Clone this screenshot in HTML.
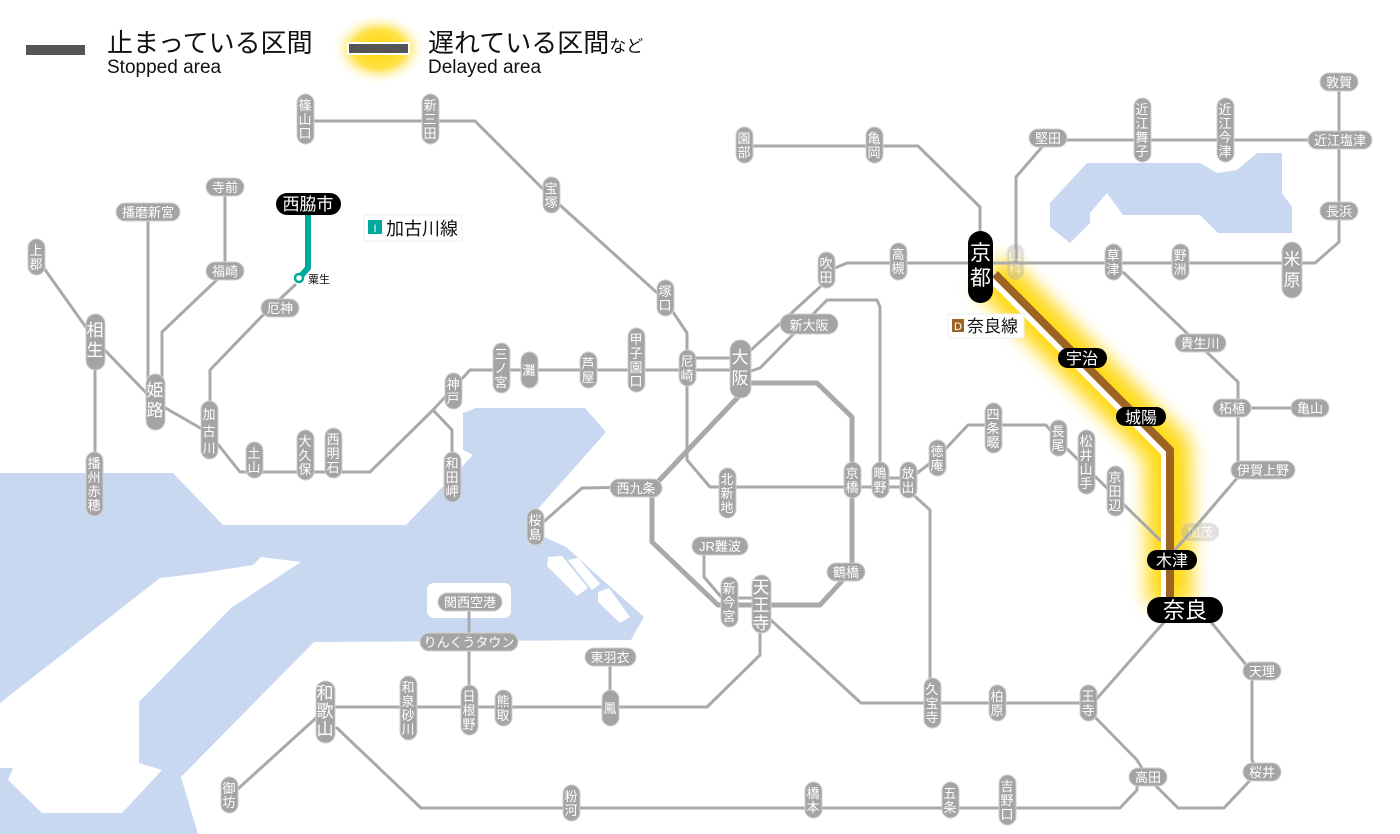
<!DOCTYPE html>
<html><head><meta charset="utf-8">
<style>
html,body{margin:0;padding:0;background:#fff;}
svg{display:block;font-family:"Liberation Sans","Noto Sans CJK JP",sans-serif;}
.ln{fill:none;stroke:#a9a9a9;stroke-width:3;stroke-linejoin:round;stroke-linecap:round;}
.ring{fill:none;stroke:#a9a9a9;stroke-width:5;stroke-linejoin:round;}
.p{fill:#a4a4a4;stroke:#d0d0d0;stroke-width:1;}
.t{fill:#fff;font-size:13px;text-anchor:middle;}
.tb{fill:#fff;font-size:17px;text-anchor:middle;}
.b{fill:#000;}
.tw{fill:#fff;text-anchor:middle;}
</style></head><body>
<svg width="1400" height="834" viewBox="0 0 1400 834" xmlns="http://www.w3.org/2000/svg">
<defs>
<filter id="blur" x="-50%" y="-50%" width="200%" height="200%"><feGaussianBlur stdDeviation="9"/></filter>
<radialGradient id="lg" cx="50%" cy="50%" r="50%"><stop offset="0" stop-color="#ffd400"/><stop offset="0.55" stop-color="#ffe24a"/><stop offset="1" stop-color="#fff" stop-opacity="0"/></radialGradient>
</defs>

<!-- water -->
<polygon fill="#c9d8f1" points="0,473 173,473 223,525 406,525 473,455 463,450 463,413 476,408 585,408 606,432 537,510 540,535 566,547 644,617 631,640 314,642 181,777 198,834 0,834"/>
<polygon fill="#fff" points="261,557 301,562 231,608 139,702 139,763 162,770 122,813 42,813 8,780 13,768 0,768 0,703 160,578 202,573 253,565"/>
<rect x="427" y="583" width="84" height="35" rx="7" fill="#fff"/>
<polygon fill="#fff" points="548,557 562,556 588,588 577,596 547,566"/>
<polygon fill="#fff" points="598,592 609,588 630,617 620,623 598,602"/>
<polygon fill="#fff" points="568,560 578,558 600,584 592,590"/>
<polygon fill="#c9d8f1" points="1087,163 1200,163 1217,173 1237,170 1257,153 1282,153 1282,193 1292,207 1292,233 1218,233 1200,215 1123,215 1107,193 1090,213 1090,223 1070,243 1050,227 1050,203"/>

<!-- legend -->
<rect x="26" y="45" width="59" height="10" fill="#555"/>
<text x="107" y="52" font-size="26" fill="#111">止まっている区間</text>
<text x="107" y="73" font-size="19" fill="#111">Stopped area</text>
<ellipse cx="379" cy="49" rx="48" ry="36" fill="url(#lg)"/>
<rect x="347" y="42" width="63" height="13" fill="#fff"/>
<rect x="349" y="44" width="59" height="9" fill="#555"/>
<text x="428" y="52" font-size="26" fill="#111">遅れている区間<tspan font-size="17">など</tspan></text>
<text x="428" y="73" font-size="19" fill="#111">Delayed area</text>

<!-- delayed glow -->
<polyline points="990,272 1168,450 1170,604" fill="none" stroke="#ffd600" stroke-width="46" stroke-linejoin="round" filter="url(#blur)" opacity="0.9"/>

<!-- lines -->
<polyline class="ln" points="305,121 475,121 551,197 665,300 687,333 687,460 710,487 910,487"/>
<polyline class="ln" points="36,257 95,340 155,402 209,433 240,472 370,472 433,410 470,370 740,370"/>
<polyline class="ln" points="433,410 452,430 452,476"/>
<polyline class="ln" points="687,358 740,358"/>
<polyline class="ln" points="95,340 95,482"/>
<polyline class="ln" points="148,212 148,395"/>
<polyline class="ln" points="225,187 225,272 162,332 162,395"/>
<polyline class="ln" points="295,285 263,315 210,370 210,430"/>
<polyline class="ln" points="740,360 820,287 835,268 847,263 1315,263 1339,242 1339,82"/>
<polyline class="ln" points="748,372 760,368 827,300 877,300 880,307 880,480"/>
<polyline class="ln" points="880,478 908,478"/>
<polyline class="ln" points="980,230 980,207 918,146 744,146"/>
<polyline class="ln" points="1016,263 1016,177 1048,140 1339,140"/>
<polyline class="ln" points="1113,270 1124,273 1238,382 1238,477 1191,532 1170,555"/>
<polyline class="ln" points="1232,408 1310,408"/>
<polyline class="ln" points="908,480 937,458 968,425 1046,425 1058,440 1160,540"/>
<polyline class="ring" points="745,383 817,383 852,417 852,570 820,605 718,605 652,542 652,488 740,395"/>
<polyline class="ln" points="636,487 582,488 540,525"/>
<polyline class="ln" points="704,547 704,577 722,598 760,598"/>
<polyline class="ln" points="760,610 861,703 1093,703 1166,620"/>
<polyline class="ln" points="1088,710 1137,760 1148,778"/>
<polyline class="ln" points="1148,778 1178,808 1224,808 1258,772 1252,760 1252,672 1211,622"/>
<polyline class="ln" points="337,728 421,808 1120,808 1137,790 1137,778"/>
<polyline class="ln" points="908,490 930,510 930,703"/>
<polyline class="ln" points="760,632 760,655 707,707 325,707"/>
<polyline class="ln" points="469,602 469,700"/>
<polyline class="ln" points="610,657 610,707"/>
<polyline class="ln" points="316,718 229,797"/>

<!-- Nara line delayed -->
<polyline points="992,276 1167,452 1167,604" fill="none" stroke="#fff" stroke-width="12" stroke-linejoin="round"/>
<polyline points="995,274 1170,450 1170,604" fill="none" stroke="#9c6322" stroke-width="8" stroke-linejoin="round"/>

<!-- Kakogawa teal -->
<polyline points="308,210 308,268 299,278" fill="none" stroke="#00a99d" stroke-width="6" stroke-linejoin="round"/>
<circle cx="299" cy="278" r="4" fill="#fff" stroke="#00a99d" stroke-width="2.5"/>
<text x="308" y="283" font-size="11" fill="#111">粟生</text>

<!-- vertical gray pills -->
<g>
<rect class="p" x="297" y="94" width="17" height="50" rx="8.5"/><text class="t"><tspan x="305" y="110">篠</tspan><tspan x="305" y="124">山</tspan><tspan x="305" y="138">口</tspan></text>
<rect class="p" x="422" y="94" width="17" height="50" rx="8.5"/><text class="t"><tspan x="430" y="110">新</tspan><tspan x="430" y="124">三</tspan><tspan x="430" y="138">田</tspan></text>
<rect class="p" x="543" y="177" width="17" height="36" rx="8.5"/><text class="t"><tspan x="551" y="193">宝</tspan><tspan x="551" y="207">塚</tspan></text>
<rect class="p" x="657" y="280" width="17" height="36" rx="8.5"/><text class="t"><tspan x="665" y="296">塚</tspan><tspan x="665" y="310">口</tspan></text>
<rect class="p" x="679" y="350" width="17" height="36" rx="8.5"/><text class="t"><tspan x="687" y="366">尼</tspan><tspan x="687" y="380">崎</tspan></text>
<rect class="p" x="628" y="328" width="17" height="64" rx="8.5"/><text class="t"><tspan x="636" y="344">甲</tspan><tspan x="636" y="358">子</tspan><tspan x="636" y="372">園</tspan><tspan x="636" y="386">口</tspan></text>
<rect class="p" x="580" y="352" width="17" height="36" rx="8.5"/><text class="t"><tspan x="588" y="368">芦</tspan><tspan x="588" y="382">屋</tspan></text>
<rect class="p" x="521" y="352" width="17" height="36" rx="8.5"/><text class="t"><tspan x="529" y="375">灘</tspan></text>
<rect class="p" x="493" y="343" width="17" height="50" rx="8.5"/><text class="t"><tspan x="501" y="359">三</tspan><tspan x="501" y="373">ノ</tspan><tspan x="501" y="387">宮</tspan></text>
<rect class="p" x="445" y="373" width="17" height="36" rx="8.5"/><text class="t"><tspan x="453" y="389">神</tspan><tspan x="453" y="403">戸</tspan></text>
<rect class="p" x="444" y="452" width="17" height="50" rx="8.5"/><text class="t"><tspan x="452" y="468">和</tspan><tspan x="452" y="482">田</tspan><tspan x="452" y="496">岬</tspan></text>
<rect class="p" x="325" y="428" width="17" height="50" rx="8.5"/><text class="t"><tspan x="333" y="444">西</tspan><tspan x="333" y="458">明</tspan><tspan x="333" y="472">石</tspan></text>
<rect class="p" x="297" y="430" width="17" height="50" rx="8.5"/><text class="t"><tspan x="305" y="446">大</tspan><tspan x="305" y="460">久</tspan><tspan x="305" y="474">保</tspan></text>
<rect class="p" x="246" y="442" width="17" height="36" rx="8.5"/><text class="t"><tspan x="254" y="458">土</tspan><tspan x="254" y="472">山</tspan></text>
<rect class="p" x="201" y="401" width="17" height="58" rx="8.5"/><text class="t" font-size="15"><tspan x="209" y="419">加</tspan><tspan x="209" y="436">古</tspan><tspan x="209" y="453">川</tspan></text>
<rect class="p" x="28" y="239" width="17" height="36" rx="8.5"/><text class="t"><tspan x="36" y="255">上</tspan><tspan x="36" y="269">郡</tspan></text>
<rect class="p" x="86" y="452" width="17" height="64" rx="8.5"/><text class="t"><tspan x="94" y="468">播</tspan><tspan x="94" y="482">州</tspan><tspan x="94" y="496">赤</tspan><tspan x="94" y="510">穂</tspan></text>
<rect class="p" x="86" y="314" width="19" height="56" rx="9.5"/><text class="tb"><tspan x="95" y="336">相</tspan><tspan x="95" y="356">生</tspan></text>
<rect class="p" x="146" y="374" width="19" height="56" rx="9.5"/><text class="tb"><tspan x="155" y="396">姫</tspan><tspan x="155" y="416">路</tspan></text>
<rect class="p" x="730" y="340" width="21" height="58" rx="10"/><text class="tb" font-size="19"><tspan x="740" y="363">大</tspan><tspan x="740" y="384">阪</tspan></text>
<rect class="p" x="1282" y="242" width="20" height="56" rx="10"/><text class="tb" font-size="19"><tspan x="1292" y="265">米</tspan><tspan x="1292" y="286">原</tspan></text>
<rect class="p" x="316" y="681" width="19" height="62" rx="9.5"/><text class="tb" font-size="16"><tspan x="325" y="699">和</tspan><tspan x="325" y="717">歌</tspan><tspan x="325" y="735">山</tspan></text>
<rect class="p" x="752" y="575" width="19" height="58" rx="9.5"/><text class="tb" font-size="16"><tspan x="761" y="593">天</tspan><tspan x="761" y="611">王</tspan><tspan x="761" y="629">寺</tspan></text>
<rect class="p" x="818" y="252" width="17" height="36" rx="8.5"/><text class="t"><tspan x="826" y="268">吹</tspan><tspan x="826" y="282">田</tspan></text>
<rect class="p" x="890" y="243" width="17" height="37" rx="8.5"/><text class="t"><tspan x="898" y="259">高</tspan><tspan x="898" y="273">槻</tspan></text>
<rect class="p" x="866" y="127" width="17" height="36" rx="8.5"/><text class="t"><tspan x="874" y="143">亀</tspan><tspan x="874" y="157">岡</tspan></text>
<rect class="p" x="736" y="127" width="17" height="36" rx="8.5"/><text class="t"><tspan x="744" y="143">園</tspan><tspan x="744" y="157">部</tspan></text>
<rect class="p" x="1134" y="98" width="17" height="64" rx="8.5"/><text class="t"><tspan x="1142" y="114">近</tspan><tspan x="1142" y="128">江</tspan><tspan x="1142" y="142">舞</tspan><tspan x="1142" y="156">子</tspan></text>
<rect class="p" x="1217" y="98" width="17" height="64" rx="8.5"/><text class="t"><tspan x="1225" y="114">近</tspan><tspan x="1225" y="128">江</tspan><tspan x="1225" y="142">今</tspan><tspan x="1225" y="156">津</tspan></text>
<rect class="p" x="1172" y="244" width="17" height="36" rx="8.5"/><text class="t"><tspan x="1180" y="260">野</tspan><tspan x="1180" y="274">洲</tspan></text>
<rect class="p" x="1105" y="244" width="17" height="36" rx="8.5"/><text class="t"><tspan x="1113" y="260">草</tspan><tspan x="1113" y="274">津</tspan></text>
<rect class="p" x="1107" y="466" width="17" height="50" rx="8.5"/><text class="t"><tspan x="1115" y="482">京</tspan><tspan x="1115" y="496">田</tspan><tspan x="1115" y="510">辺</tspan></text>
<rect class="p" x="1078" y="430" width="17" height="64" rx="8.5"/><text class="t"><tspan x="1086" y="446">松</tspan><tspan x="1086" y="460">井</tspan><tspan x="1086" y="474">山</tspan><tspan x="1086" y="488">手</tspan></text>
<rect class="p" x="1050" y="420" width="17" height="36" rx="8.5"/><text class="t"><tspan x="1058" y="436">長</tspan><tspan x="1058" y="450">尾</tspan></text>
<rect class="p" x="985" y="403" width="17" height="50" rx="8.5"/><text class="t"><tspan x="993" y="419">四</tspan><tspan x="993" y="433">条</tspan><tspan x="993" y="447">畷</tspan></text>
<rect class="p" x="929" y="440" width="17" height="36" rx="8.5"/><text class="t"><tspan x="937" y="456">徳</tspan><tspan x="937" y="470">庵</tspan></text>
<rect class="p" x="900" y="462" width="17" height="36" rx="8.5"/><text class="t"><tspan x="908" y="478">放</tspan><tspan x="908" y="492">出</tspan></text>
<rect class="p" x="872" y="462" width="17" height="36" rx="8.5"/><text class="t"><tspan x="880" y="478">鴫</tspan><tspan x="880" y="492">野</tspan></text>
<rect class="p" x="844" y="462" width="17" height="36" rx="8.5"/><text class="t"><tspan x="852" y="478">京</tspan><tspan x="852" y="492">橋</tspan></text>
<rect class="p" x="719" y="468" width="17" height="50" rx="8.5"/><text class="t"><tspan x="727" y="484">北</tspan><tspan x="727" y="498">新</tspan><tspan x="727" y="512">地</tspan></text>
<rect class="p" x="527" y="509" width="17" height="36" rx="8.5"/><text class="t"><tspan x="535" y="525">桜</tspan><tspan x="535" y="539">島</tspan></text>
<rect class="p" x="721" y="577" width="17" height="50" rx="8.5"/><text class="t"><tspan x="729" y="593">新</tspan><tspan x="729" y="607">今</tspan><tspan x="729" y="621">宮</tspan></text>
<rect class="p" x="924" y="678" width="17" height="50" rx="8.5"/><text class="t"><tspan x="932" y="694">久</tspan><tspan x="932" y="708">宝</tspan><tspan x="932" y="722">寺</tspan></text>
<rect class="p" x="989" y="685" width="17" height="36" rx="8.5"/><text class="t"><tspan x="997" y="701">柏</tspan><tspan x="997" y="715">原</tspan></text>
<rect class="p" x="1080" y="685" width="17" height="36" rx="8.5"/><text class="t"><tspan x="1088" y="701">王</tspan><tspan x="1088" y="715">寺</tspan></text>
<rect class="p" x="999" y="775" width="17" height="50" rx="8.5"/><text class="t"><tspan x="1007" y="791">吉</tspan><tspan x="1007" y="805">野</tspan><tspan x="1007" y="819">口</tspan></text>
<rect class="p" x="942" y="782" width="17" height="36" rx="8.5"/><text class="t"><tspan x="950" y="798">五</tspan><tspan x="950" y="812">条</tspan></text>
<rect class="p" x="805" y="782" width="17" height="36" rx="8.5"/><text class="t"><tspan x="813" y="798">橋</tspan><tspan x="813" y="812">本</tspan></text>
<rect class="p" x="563" y="785" width="17" height="36" rx="8.5"/><text class="t"><tspan x="571" y="801">粉</tspan><tspan x="571" y="815">河</tspan></text>
<rect class="p" x="221" y="777" width="17" height="36" rx="8.5"/><text class="t"><tspan x="229" y="793">御</tspan><tspan x="229" y="807">坊</tspan></text>
<rect class="p" x="400" y="676" width="17" height="64" rx="8.5"/><text class="t"><tspan x="408" y="692">和</tspan><tspan x="408" y="706">泉</tspan><tspan x="408" y="720">砂</tspan><tspan x="408" y="734">川</tspan></text>
<rect class="p" x="461" y="685" width="17" height="50" rx="8.5"/><text class="t"><tspan x="469" y="701">日</tspan><tspan x="469" y="715">根</tspan><tspan x="469" y="729">野</tspan></text>
<rect class="p" x="495" y="690" width="17" height="36" rx="8.5"/><text class="t"><tspan x="503" y="706">熊</tspan><tspan x="503" y="720">取</tspan></text>
<rect class="p" x="602" y="690" width="17" height="36" rx="8.5"/><text class="t"><tspan x="610" y="713">鳳</tspan></text>
<g opacity="0.35"><rect class="p" x="1007" y="244" width="17" height="36" rx="8.5"/><text class="t"><tspan x="1015" y="260">山</tspan><tspan x="1015" y="274">科</tspan></text></g>
</g>

<!-- horizontal gray pills -->
<g>
<rect class="p" x="116" y="203" width="64" height="18" rx="9"/><text class="t" x="148" y="217">播磨新宮</text>
<rect class="p" x="206" y="178" width="38" height="18" rx="9"/><text class="t" x="225" y="192">寺前</text>
<rect class="p" x="206" y="262" width="38" height="18" rx="9"/><text class="t" x="225" y="276">福崎</text>
<rect class="p" x="261" y="299" width="38" height="18" rx="9"/><text class="t" x="280" y="313">厄神</text>
<rect class="p" x="780" y="314" width="58" height="20" rx="10"/><text class="t" font-size="15" x="809" y="330">新大阪</text>
<rect class="p" x="1029" y="129" width="38" height="18" rx="9"/><text class="t" x="1048" y="143">堅田</text>
<rect class="p" x="1308" y="131" width="64" height="18" rx="9"/><text class="t" x="1340" y="145">近江塩津</text>
<rect class="p" x="1320" y="73" width="38" height="18" rx="9"/><text class="t" x="1339" y="87">敦賀</text>
<rect class="p" x="1320" y="202" width="38" height="18" rx="9"/><text class="t" x="1339" y="216">長浜</text>
<rect class="p" x="1175" y="334" width="51" height="18" rx="9"/><text class="t" x="1200" y="348">貴生川</text>
<rect class="p" x="1213" y="399" width="38" height="18" rx="9"/><text class="t" x="1232" y="413">柘植</text>
<rect class="p" x="1291" y="399" width="38" height="18" rx="9"/><text class="t" x="1310" y="413">亀山</text>
<rect class="p" x="1231" y="461" width="64" height="18" rx="9"/><text class="t" x="1263" y="475">伊賀上野</text>
<rect class="p" x="610" y="479" width="52" height="18" rx="9"/><text class="t" x="636" y="493">西九条</text>
<rect class="p" x="692" y="537" width="56" height="18" rx="9"/><text class="t" x="720" y="551">JR難波</text>
<rect class="p" x="827" y="563" width="38" height="18" rx="9"/><text class="t" x="846" y="577">鶴橋</text>
<rect class="p" x="1243" y="662" width="38" height="18" rx="9"/><text class="t" x="1262" y="676">天理</text>
<rect class="p" x="1243" y="763" width="38" height="18" rx="9"/><text class="t" x="1262" y="777">桜井</text>
<rect class="p" x="1129" y="768" width="38" height="18" rx="9"/><text class="t" x="1148" y="782">高田</text>
<rect class="p" x="585" y="648" width="51" height="18" rx="9"/><text class="t" x="610" y="662">東羽衣</text>
<rect class="p" x="420" y="633" width="98" height="18" rx="9"/><text class="t" x="469" y="647">りんくうタウン</text>
<rect class="p" x="438" y="593" width="64" height="18" rx="9"/><text class="t" x="470" y="607">関西空港</text>
<g opacity="0.35"><rect class="p" x="1181" y="523" width="38" height="18" rx="9"/><text class="t" x="1200" y="537">加茂</text></g>
</g>

<!-- black pills -->
<rect class="b" x="276" y="193" width="65" height="22" rx="11"/><text class="tw" font-size="17" x="308" y="210">西脇市</text>
<rect class="b" x="968" y="231" width="25" height="72" rx="12.5"/><text class="tw" font-size="21"><tspan x="980.5" y="260">京</tspan><tspan x="980.5" y="285">都</tspan></text>
<rect class="b" x="1058" y="348" width="49" height="20" rx="10"/><text class="tw" font-size="16" x="1082" y="364">宇治</text>
<rect class="b" x="1116" y="407" width="50" height="19" rx="9.5"/><text class="tw" font-size="16" x="1141" y="423">城陽</text>
<rect class="b" x="1147" y="550" width="50" height="20" rx="10"/><text class="tw" font-size="16" x="1172" y="566">木津</text>
<rect class="b" x="1147" y="597" width="76" height="26" rx="13"/><text class="tw" font-size="22" x="1185" y="618">奈良</text>

<!-- line tags -->
<rect x="364" y="215" width="98" height="26" fill="#fff" stroke="#eee"/>
<rect x="368" y="220" width="14" height="14" fill="#00a99d"/><text x="375" y="232" font-size="11" fill="#fff" text-anchor="middle">I</text>
<text x="386" y="235" font-size="18" fill="#111">加古川線</text>
<rect x="948" y="314" width="76" height="24" fill="#fff" stroke="#eee"/>
<rect x="952" y="319" width="12" height="13" fill="#9c6322"/><text x="958" y="330" font-size="11" fill="#fff" text-anchor="middle">D</text>
<text x="967" y="332" font-size="17" fill="#111">奈良線</text>
</svg>
</body></html>
